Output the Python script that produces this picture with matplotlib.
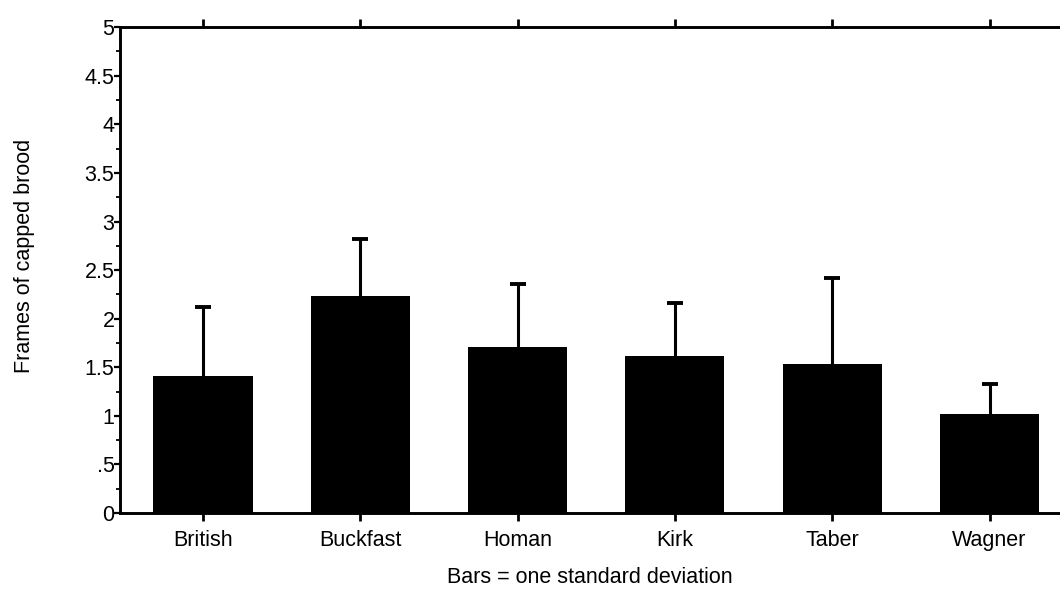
import matplotlib.pyplot as plt
import numpy as np

plt.rcParams['font.family'] = ['Liberation Sans', 'DejaVu Sans']

breeds = ['British', 'Buckfast', 'Homan', 'Kirk', 'Taber', 'Wagner']
means = [1.41, 2.23, 1.71, 1.62, 1.53, 1.02]
sds = [0.71, 0.59, 0.65, 0.54, 0.89, 0.31]
ytick_vals = [0, 0.5, 1, 1.5, 2, 2.5, 3, 3.5, 4, 4.5, 5]
ytick_labels = ['0', '.5', '1', '1.5', '2', '2.5', '3', '3.5', '4', '4.5', '5']

fig = plt.figure(figsize=(10.6, 5.91), dpi=100)
ax = fig.add_axes([0.1132, 0.132, 0.8868, 0.822])

x = np.arange(len(breeds))
ax.bar(x, means, width=0.63, color='black', zorder=2)
# lower half of the SD bar is hidden behind the black bar
ax.errorbar(x, means, yerr=sds, fmt='none',
            ecolor='black', elinewidth=2.2, capsize=5.5, capthick=2.8, zorder=1)

ax.set_xlim(-0.528, 5.448)
ax.set_ylim(0, 5)
ax.set_xticks(x)
ax.set_xticklabels(breeds, fontsize=15.5)
ax.set_yticks(ytick_vals)
ax.set_yticklabels(ytick_labels, fontsize=15.5)
ax.set_yticks(np.arange(0.25, 5, 0.5), minor=True)

ax.spines['right'].set_visible(False)
for s in ['left', 'bottom', 'top']:
    ax.spines[s].set_linewidth(2.1)

ax.tick_params(axis='x', which='major', top=True, bottom=True, direction='out',
               length=6, width=2.0, pad=6)
ax.tick_params(axis='y', which='major', direction='out', length=4, width=1.6, pad=0)
ax.tick_params(axis='y', which='minor', direction='out', length=3, width=1.3)

ax.set_ylabel('Frames of capped brood', fontsize=15.5)
ax.yaxis.set_label_coords(-0.09, 0.53)
ax.set_xlabel('Bars = one standard deviation', fontsize=15.5)
ax.xaxis.label.set_va('center')
ax.xaxis.set_label_coords(0.5, -0.132)

fig.savefig('out.png', dpi=100)
